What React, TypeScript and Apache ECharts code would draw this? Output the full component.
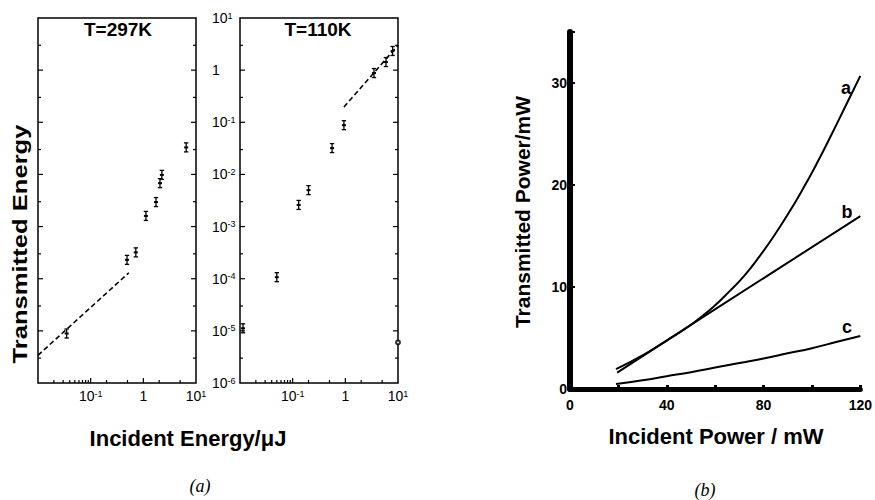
import React, { useEffect, useRef } from "react";
import * as echarts from "echarts";

const FONT = "'Liberation Sans', Arial, Helvetica, sans-serif";
const SERIF = "'Liberation Serif', 'DejaVu Serif', serif";

// ---- Panel (a), T = 297 K ----
const pts297X = [0.035, 0.49, 0.72, 1.12, 1.74, 2.07, 2.25, 6.5];
const pts297Y = [8.9e-6, 2.3e-4, 3.2e-4, 1.6e-3, 2.95e-3, 6.8e-3, 9.8e-3, 0.033];
const fit297X = [0.01, 0.53];
const fit297Y = [3.4e-6, 1.3e-4];

// ---- Panel (a), T = 110 K ----
const pts110X = [0.0114, 0.05, 0.13, 0.2, 0.56, 0.94, 3.5, 5.9, 7.9];
const pts110Y = [1.12e-5, 1.07e-4, 2.6e-3, 5.0e-3, 0.032, 0.088, 0.88, 1.43, 2.33];
const fit110X = [0.94, 10];
const fit110Y = [0.196, 3.0];
const open110X = [10];
const open110Y = [6e-6];

// log-panel tick values
const logXMajor = [0.1, 1];
const logXMinor = [0.02, 0.03, 0.04, 0.05, 0.06, 0.07, 0.08, 0.09, 0.2, 0.5, 2, 5];
const logYMajor = [1e-5, 1e-4, 1e-3, 1e-2, 1e-1, 1];
const logYMinor = [3e-6, 3e-5, 3e-4, 3e-3, 3e-2, 0.3, 3];

// ---- Panel (b) ----
const aX = [19, 25, 30, 35, 40, 45, 50, 55, 60, 66, 72, 78, 84, 90, 96, 102, 108, 114, 120];
const aY = [1.95, 2.65, 3.3, 4.0, 4.75, 5.5, 6.3, 7.2, 8.2, 9.6, 11.1, 12.9, 14.9, 17.1, 19.5, 22.1, 24.9, 27.8, 30.7];
const bX = [19.5, 53, 120];
const bY = [1.6, 6.75, 16.95];
const cX = [19, 30, 40, 50, 60, 70, 80, 90, 100, 110, 120];
const cY = [0.5, 0.85, 1.25, 1.65, 2.1, 2.55, 3.0, 3.5, 4.0, 4.6, 5.2];

const zip = (xs: number[], ys: number[]) => xs.map((x, i) => [x, ys[i]]);

const supLabel = (v: number) => {
  const e = Math.round(Math.log10(v));
  if (e === 0) return "1";
  return `10{s|${e}}`;
};

const richSup = {
  s: { fontSize: 9, fontFamily: FONT, color: "#000", verticalAlign: "top" },
};

const tickSeries = (gi: number) => {
  const xData = [
    ...logXMajor.map((v) => [v, 1e-6, 5]),
    ...logXMinor.map((v) => [v, 1e-6, 3]),
  ];
  const yData = [
    ...logYMajor.map((v) => [0.01, v, 5]),
    ...logYMinor.map((v) => [0.01, v, 3]),
  ];
  return [
    {
      type: "custom",
      xAxisIndex: gi,
      yAxisIndex: gi,
      silent: true,
      data: xData,
      renderItem: (_p: any, api: any) => {
        const p = api.coord([api.value(0), api.value(1)]);
        const len = api.value(2);
        return {
          type: "line",
          shape: { x1: p[0], y1: p[1], x2: p[0], y2: p[1] - len },
          style: { stroke: "#000", lineWidth: 1.2 },
        };
      },
    },
    {
      type: "custom",
      xAxisIndex: gi,
      yAxisIndex: gi,
      silent: true,
      data: yData,
      renderItem: (_p: any, api: any) => {
        const p = api.coord([api.value(0), api.value(1)]);
        const q = api.coord([10, api.value(1)]);
        const len = api.value(2);
        return {
          type: "group",
          children: [
            { type: "line", shape: { x1: p[0], y1: p[1], x2: p[0] + len, y2: p[1] }, style: { stroke: "#000", lineWidth: 1.2 } },
            { type: "line", shape: { x1: q[0], y1: q[1], x2: q[0] - len, y2: q[1] }, style: { stroke: "#000", lineWidth: 1.2 } },
          ],
        };
      },
    },
  ];
};

const errSeries = (gi: number, xs: number[], ys: number[]) => ({
  type: "custom",
  xAxisIndex: gi,
  yAxisIndex: gi,
  silent: true,
  data: zip(xs, ys),
  renderItem: (_p: any, api: any) => {
    const p = api.coord([api.value(0), api.value(1)]);
    const h = 4.5;
    const w = 2.2;
    const st = { stroke: "#000", lineWidth: 1.3 };
    return {
      type: "group",
      children: [
        { type: "line", shape: { x1: p[0], y1: p[1] - h, x2: p[0], y2: p[1] + h }, style: st },
        { type: "line", shape: { x1: p[0] - w, y1: p[1] - h, x2: p[0] + w, y2: p[1] - h }, style: st },
        { type: "line", shape: { x1: p[0] - w, y1: p[1] + h, x2: p[0] + w, y2: p[1] + h }, style: st },
        { type: "rect", shape: { x: p[0] - 2, y: p[1] - 1, width: 4, height: 2 }, style: { fill: "#000" } },
      ],
    };
  },
});

const logX = (gi: number) => ({
  type: "log",
  gridIndex: gi,
  logBase: 10,
  min: 0.01,
  max: 10,
  splitNumber: 3,
  axisLine: { show: false },
  axisTick: { show: false },
  splitLine: { show: false },
  axisLabel: {
    margin: 6,
    color: "#000",
    fontSize: 14,
    fontFamily: FONT,
    formatter: (v: number) => (Math.round(Math.log10(v)) === -2 ? "" : supLabel(v)),
    rich: richSup,
  },
});

const logY = (gi: number, labels: boolean) => ({
  type: "log",
  gridIndex: gi,
  logBase: 10,
  min: 1e-6,
  max: 10,
  splitNumber: 7,
  axisLine: { show: false },
  axisTick: { show: false },
  splitLine: { show: false },
  axisLabel: labels
    ? {
        show: true,
        margin: 28,
        align: "left",
        color: "#000",
        fontSize: 14,
        fontFamily: FONT,
        formatter: (v: number) => supLabel(v),
        rich: richSup,
      }
    : { show: false },
});

const txt = (text: string, x: number, y: number, font: any, extra: any = {}) => ({
  type: "text",
  x,
  y,
  ...extra,
  style: {
    text,
    fill: "#000",
    align: "center",
    verticalAlign: "middle",
    textAlign: "center",
    textVerticalAlign: "middle",
    ...font,
  },
});

const bold = (size: number) => ({ fontFamily: FONT, fontWeight: "bold", fontSize: size });
const ital = (size: number) => ({ fontFamily: SERIF, fontStyle: "italic", fontSize: size });

export default function App() {
  const ref = useRef<HTMLDivElement>(null);
  useEffect(() => {
    if (!ref.current) return;
    const chart = echarts.init(ref.current, null, { renderer: "svg" });
    const gridBox = { show: true, borderColor: "#000", borderWidth: 1.5, backgroundColor: "transparent" };
    chart.setOption({
      animation: false,
      backgroundColor: "#fff",
      textStyle: { fontFamily: FONT, color: "#000" },
      grid: [
        { left: 38, top: 18, width: 158, height: 365, ...gridBox },
        { left: 240, top: 18, width: 158, height: 365, ...gridBox },
        { left: 570, top: 32, width: 295, height: 357, show: false },
      ],
      xAxis: [
        logX(0),
        logX(1),
        {
          type: "value",
          gridIndex: 2,
          min: 0,
          max: 120,
          interval: 20,
          splitLine: { show: false },
          axisLine: { lineStyle: { color: "#000", width: 5 } },
          axisTick: { inside: true, length: 4, lineStyle: { color: "#000", width: 3 } },
          axisLabel: {
            margin: 9,
            color: "#000",
            fontFamily: FONT,
            fontWeight: "bold",
            fontSize: 14,
            formatter: (v: number) => (v % 40 === 0 ? String(v) : ""),
          },
        },
      ],
      yAxis: [
        logY(0, false),
        logY(1, true),
        {
          type: "value",
          gridIndex: 2,
          min: 0,
          max: 35,
          interval: 10,
          splitLine: { show: false },
          axisLine: { lineStyle: { color: "#000", width: 6 } },
          axisTick: { inside: true, length: 5, lineStyle: { color: "#000", width: 2 } },
          axisLabel: {
            margin: 3,
            color: "#000",
            fontFamily: FONT,
            fontWeight: "bold",
            fontSize: 14,
            formatter: (v: number) => (v % 10 === 0 ? String(v) : ""),
          },
        },
      ],
      series: [
        ...tickSeries(0),
        ...tickSeries(1),
        errSeries(0, pts297X, pts297Y),
        errSeries(1, pts110X, pts110Y),
        {
          type: "line",
          xAxisIndex: 0,
          yAxisIndex: 0,
          data: zip(fit297X, fit297Y),
          showSymbol: false,
          lineStyle: { color: "#000", width: 1.6, type: [5, 3] },
        },
        {
          type: "line",
          xAxisIndex: 1,
          yAxisIndex: 1,
          data: zip(fit110X, fit110Y),
          showSymbol: false,
          lineStyle: { color: "#000", width: 1.6, type: [5, 3] },
        },
        {
          type: "scatter",
          xAxisIndex: 1,
          yAxisIndex: 1,
          data: zip(open110X, open110Y),
          symbol: "emptyCircle",
          symbolSize: 4,
          itemStyle: { color: "#000", borderColor: "#000", borderWidth: 1 },
        },
        {
          type: "line",
          xAxisIndex: 2,
          yAxisIndex: 2,
          data: zip(aX, aY),
          smooth: 0.5,
          showSymbol: false,
          lineStyle: { color: "#000", width: 2 },
        },
        {
          type: "line",
          xAxisIndex: 2,
          yAxisIndex: 2,
          data: zip(bX, bY),
          showSymbol: false,
          lineStyle: { color: "#000", width: 2 },
        },
        {
          type: "line",
          xAxisIndex: 2,
          yAxisIndex: 2,
          data: zip(cX, cY),
          smooth: 0.5,
          showSymbol: false,
          lineStyle: { color: "#000", width: 2 },
        },
      ],
      graphic: [
        txt("Transmitted Energy", 20, 244, bold(21), { rotation: Math.PI / 2, scaleX: 1.22 }),
        txt("Incident Energy/μJ", 188, 438, bold(22)),
        txt("T=297K", 118, 29, bold(19)),
        txt("T=110K", 318, 29, bold(19)),
        txt("(a)", 200, 486, ital(18)),
        txt("Transmitted Power/mW", 522, 212, bold(21), { rotation: Math.PI / 2 }),
        txt("Incident Power / mW", 716, 436, bold(22)),
        txt("(b)", 705, 490, ital(18)),
        txt("a", 846, 88, bold(18)),
        txt("b", 847, 212, bold(18)),
        txt("c", 847, 327, bold(18)),
      ],
    });
    return () => chart.dispose();
  }, []);
  return (
    <div
      ref={ref}
      style={{ position: "fixed", left: 0, top: 0, width: 875, height: 500, background: "#fff" }}
    />
  );
}
